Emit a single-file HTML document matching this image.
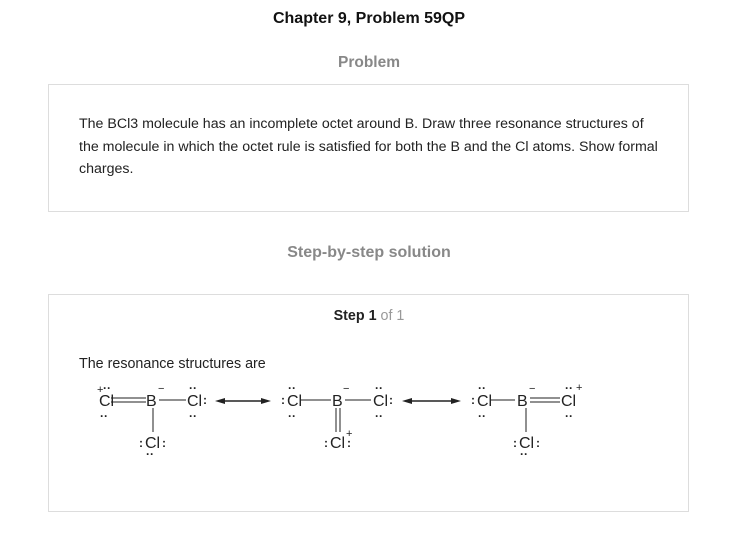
<!DOCTYPE html>
<html><head><style>
body{margin:0;width:738px;height:538px;background:#fff;font-family:"Liberation Sans",Arial,sans-serif;position:relative;overflow:hidden}
.a{position:absolute}
</style></head><body>
<div class="a" style="left:0;width:738px;top:10px;text-align:center;font-size:16px;font-weight:bold;color:#111">Chapter 9, Problem 59QP</div>
<div class="a" style="left:0;width:738px;top:54px;text-align:center;font-size:15.5px;font-weight:bold;color:#888">Problem</div>
<div class="a" style="left:48px;top:84px;width:639px;height:126px;border:1px solid #ddd"></div>
<div class="a" style="left:79px;top:113px;width:585px;font-size:14.2px;line-height:22.5px;color:#222">The BCl3 molecule has an incomplete octet around B. Draw three resonance structures of the molecule in which the octet rule is satisfied for both the B and the Cl atoms. Show formal charges.</div>
<div class="a" style="left:0;width:738px;top:244px;text-align:center;font-size:16px;font-weight:bold;color:#888">Step-by-step solution</div>
<div class="a" style="left:48px;top:294px;width:639px;height:216px;border:1px solid #ddd"></div>
<div class="a" style="left:0;width:738px;top:308px;text-align:center;font-size:14.3px;color:#999"><b style="color:#222">Step 1</b> of 1</div>
<div class="a" style="left:79px;top:356px;font-size:14.3px;color:#222">The resonance structures are</div>
<svg class="a" style="left:0;top:0" width="738" height="538" font-family="Liberation Sans, Arial, sans-serif" font-size="16" fill="#222">
<g stroke="#222" stroke-width="1">
<line x1="111" y1="398" x2="146" y2="398"/><line x1="111" y1="402" x2="146" y2="402"/>
<line x1="159" y1="400" x2="186" y2="400"/>
<line x1="153" y1="408" x2="153" y2="432"/>
<line x1="222" y1="401" x2="265" y2="401" stroke-width="1.5"/>
<line x1="301" y1="400" x2="331" y2="400"/>
<line x1="345" y1="400" x2="371" y2="400"/>
<line x1="336" y1="408" x2="336" y2="432"/><line x1="340" y1="408" x2="340" y2="432"/>
<line x1="408" y1="401" x2="455" y2="401" stroke-width="1.5"/>
<line x1="491" y1="400" x2="515" y2="400"/>
<line x1="530" y1="398" x2="560" y2="398"/><line x1="530" y1="402" x2="560" y2="402"/>
<line x1="526" y1="408" x2="526" y2="432"/>
</g>
<g fill="#222">
<polygon points="215,401 225,398 225,404"/><polygon points="271,401 261,398 261,404"/>
<polygon points="402,401 412,398 412,404"/><polygon points="461,401 451,398 451,404"/>
</g>
<text x="99" y="406">Cl</text><text x="146" y="406">B</text><text x="187" y="406">Cl</text><text x="145" y="448">Cl</text>
<text x="287" y="406">Cl</text><text x="332" y="406">B</text><text x="373" y="406">Cl</text><text x="330" y="448">Cl</text>
<text x="477" y="406">Cl</text><text x="517" y="406">B</text><text x="561" y="406">Cl</text><text x="519" y="448">Cl</text>
<g font-size="11"><text x="97" y="393">+</text><text x="158" y="392">−</text><text x="343" y="392">−</text><text x="346" y="437">+</text><text x="529" y="392">−</text><text x="576" y="391">+</text></g>
<g font-size="12" font-weight="bold">
<text x="103" y="392">··</text><text x="100" y="420">··</text>
<text x="189" y="392">··</text><text x="189" y="420">··</text><text x="203" y="404">:</text>
<text x="146" y="458">··</text><text x="139" y="447">:</text><text x="162" y="447">:</text>
<text x="288" y="392">··</text><text x="288" y="420">··</text><text x="281" y="404">:</text>
<text x="375" y="392">··</text><text x="375" y="420">··</text><text x="389" y="404">:</text>
<text x="324" y="447">:</text><text x="347" y="447">:</text>
<text x="478" y="392">··</text><text x="478" y="420">··</text><text x="471" y="404">:</text>
<text x="565" y="392">··</text><text x="565" y="420">··</text>
<text x="520" y="458">··</text><text x="513" y="447">:</text><text x="536" y="447">:</text>
</g>
</svg>
</body></html>
